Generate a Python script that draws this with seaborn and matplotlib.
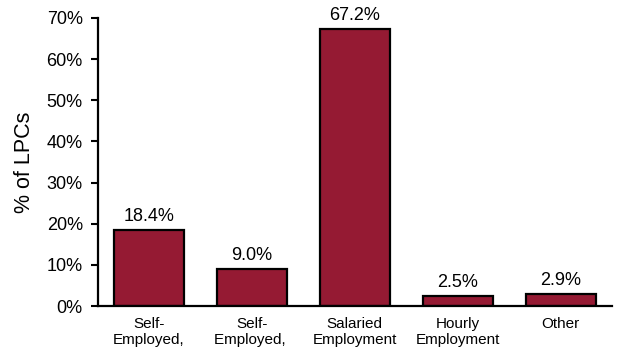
import matplotlib
matplotlib.use("Agg")
import matplotlib.pyplot as plt
import seaborn as sns
import pandas as pd

categories = ["Self-\nEmployed,", "Self-\nEmployed, ", "Salaried\nEmployment", "Hourly\nEmployment", "Other"]
shares = [18.4, 9.0, 67.2, 2.5, 2.9]
yticks = [0, 10, 20, 30, 40, 50, 60, 70]

sns.set_style("white")
plt.rcParams["font.family"] = ["Liberation Sans", "DejaVu Sans"]
plt.rcParams["text.color"] = "black"
plt.rcParams["axes.labelcolor"] = "black"
plt.rcParams["xtick.color"] = "black"
plt.rcParams["ytick.color"] = "black"

df = pd.DataFrame({"category": categories, "share": shares})

fig = plt.figure(figsize=(6.17, 3.51), dpi=100)
ax = fig.add_axes([0.159, 0.128, 0.833, 0.821])

sns.barplot(data=df, x="category", y="share", color="#951A33", saturation=1,
            edgecolor="black", linewidth=1.6, width=0.68, ax=ax)

for i, v in enumerate(shares):
    ax.text(i, v + 1.2, f"{v:.1f}%", ha="center", va="bottom", fontsize=13, color="black")

ax.set_ylim(0, 70)
ax.set_xlim(-0.49, 4.5)
ax.set_yticks(yticks)
ax.set_yticklabels([f"{t}%" for t in yticks], fontsize=13)
ax.set_ylabel("% of LPCs", fontsize=15.5, labelpad=8)
ax.set_xlabel("")
ax.tick_params(axis="x", length=0, labelsize=11, pad=8)
ax.tick_params(axis="y", left=True, length=5, width=1.5, color="black", pad=6)

for side in ["top", "right"]:
    ax.spines[side].set_visible(False)
for side in ["left", "bottom"]:
    ax.spines[side].set_color("black")
    ax.spines[side].set_linewidth(1.6)

fig.savefig("out.png", dpi=100)
